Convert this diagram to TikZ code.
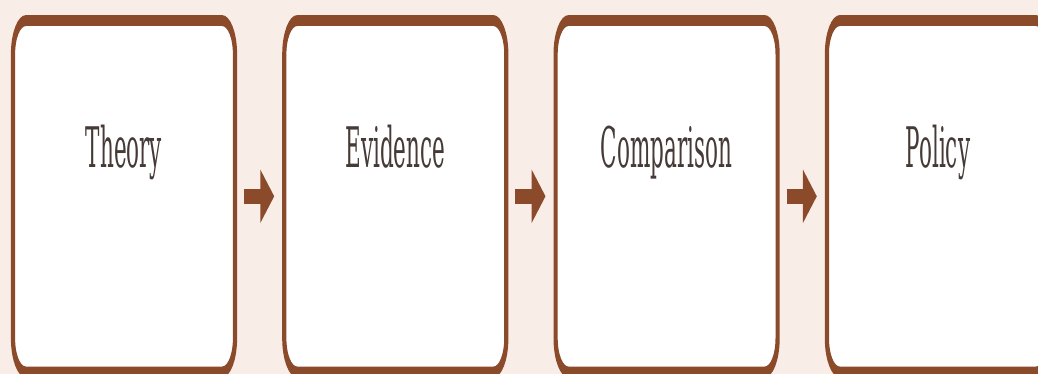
\documentclass[tikz,border=0pt]{standalone}
\usepackage{fontspec}
\setmainfont{DejaVu Serif}
\usetikzlibrary{positioning,arrows.meta}

\definecolor{pagebg}{RGB}{249,237,232}
\definecolor{stepbrown}{RGB}{139,75,43}
\definecolor{steptextcol}{RGB}{70,58,54}

\tikzset{
    stepbox/.style={draw=stepbrown, fill=white, line width=4.2pt, rounded corners=13pt,
                    minimum width=222pt, minimum height=135.2pt, inner sep=0pt, outer sep=0pt},
    steptext/.style={yshift=16.4pt, text=steptextcol, text height=16pt, text depth=5pt,
                     font=\fontsize{21.5}{24}\selectfont},
    steparrow/.style={draw=stepbrown, line width=5.8pt,
                      -{Triangle[length=14pt, width=19.6pt]},
                      shorten <=9pt, shorten >=10pt}
}

\begin{document}
\begin{tikzpicture}[x=1pt, y=-1pt, node distance=49.3pt]
    \fill[pagebg] (0,0) rectangle (1038,374);
    \useasboundingbox (0,0) rectangle (1038,374);

    % drawn flat, then stretched upwards
    \begin{scope}[transform canvas={yscale=2.6}]
        \node[stepbox, label={[steptext]center:Theory}] (theory) at (124,75.5) {};
        \node[stepbox, label={[steptext]center:Evidence}, right=of theory] (evidence) {};
        \node[stepbox, label={[steptext]center:Comparison}, right=of evidence] (comparison) {};
        \node[stepbox, label={[steptext]center:Policy}, right=of comparison] (policy) {};

        \draw[steparrow] (theory) -- (evidence);
        \draw[steparrow] (evidence) -- (comparison);
        \draw[steparrow] (comparison) -- (policy);
    \end{scope}
\end{tikzpicture}
\end{document}
